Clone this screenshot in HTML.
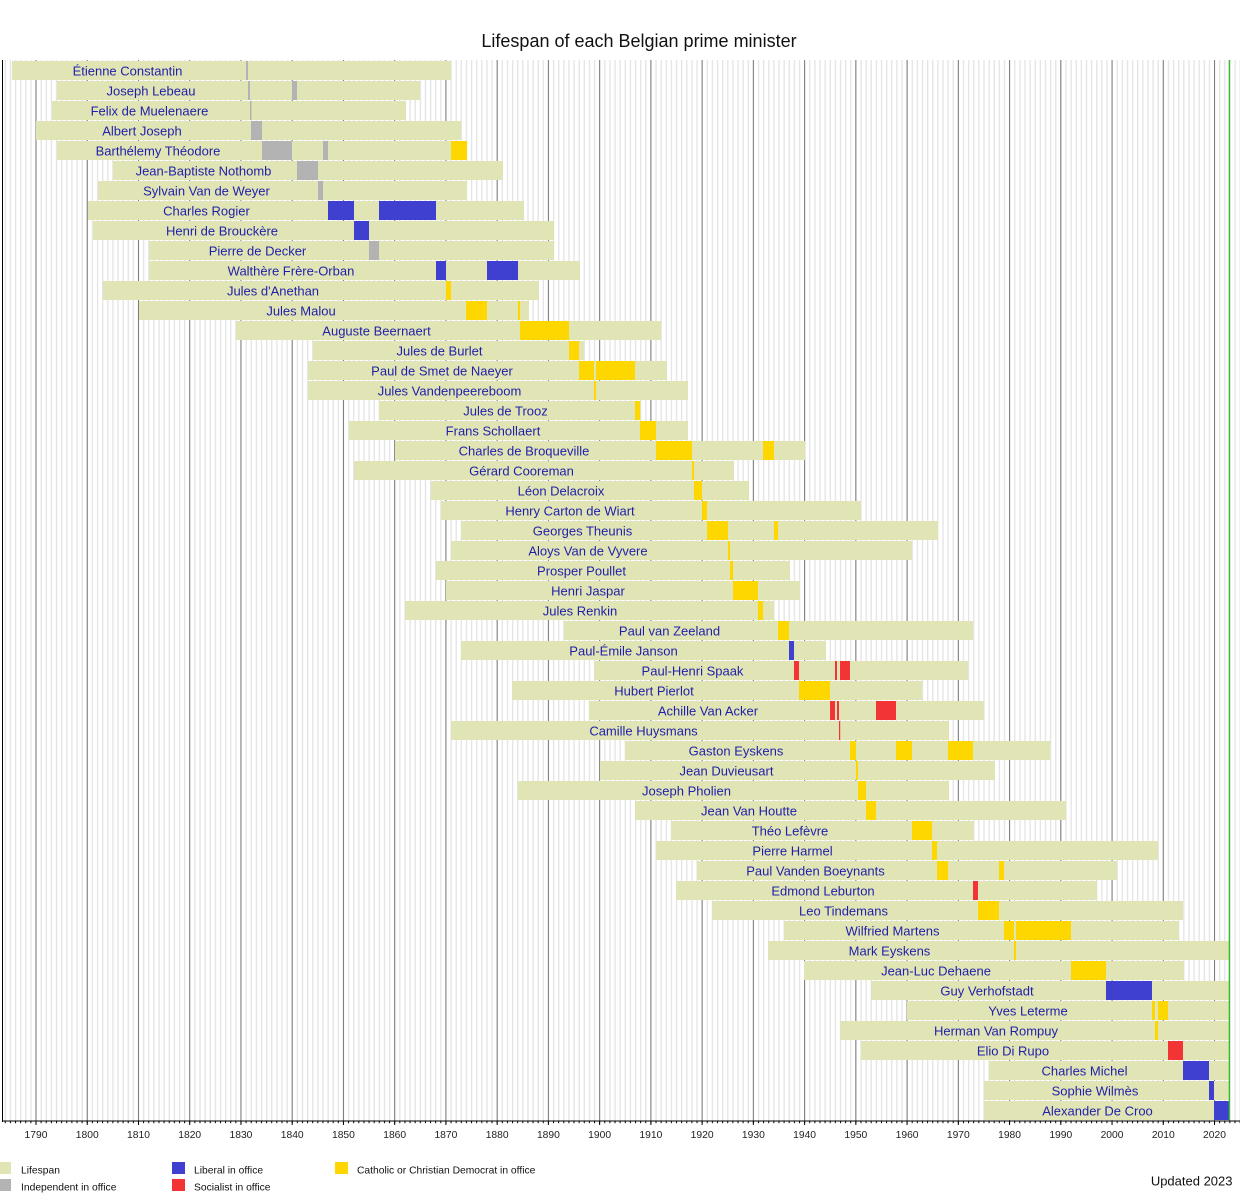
<!DOCTYPE html>
<html><head><meta charset="utf-8"><style>
html,body{margin:0;padding:0;background:#fff;}
svg{display:block;}
.n{font-family:"Liberation Sans",Arial,sans-serif;font-size:13px;fill:#1f1fa8;text-anchor:middle;}
.t{font-family:"Liberation Sans",Arial,sans-serif;font-size:10.3px;fill:#222;text-anchor:middle;}
.lg{font-family:"Liberation Sans",Arial,sans-serif;font-size:10.3px;fill:#111;}
</style></head><body>
<svg width="1250" height="1200" viewBox="0 0 1250 1200" xmlns="http://www.w3.org/2000/svg">
<defs>
<pattern id="minor" patternUnits="userSpaceOnUse" x="35.4" y="0" width="5.124" height="20"><rect x="0" y="0" width="1.3" height="20" fill="#e4e4e4"/></pattern>
<pattern id="mtick" patternUnits="userSpaceOnUse" x="35.5" y="0" width="5.124" height="20"><rect x="0" y="0" width="1" height="20" fill="#000"/></pattern>
</defs>
<rect width="1250" height="1200" fill="#fff"/>
<text x="639" y="47" style="font-family:'Liberation Sans',Arial,sans-serif;font-size:18px;fill:#111;text-anchor:middle">Lifespan of each Belgian prime minister</text>
<rect x="3" y="60" width="1237" height="1061" fill="url(#minor)"/>
<g stroke="#7a7a7a" stroke-width="1">
<line x1="36" y1="60" x2="36" y2="1121"/><line x1="87.24" y1="60" x2="87.24" y2="1121"/><line x1="138.48" y1="60" x2="138.48" y2="1121"/><line x1="189.72" y1="60" x2="189.72" y2="1121"/><line x1="240.96" y1="60" x2="240.96" y2="1121"/><line x1="292.2" y1="60" x2="292.2" y2="1121"/><line x1="343.44" y1="60" x2="343.44" y2="1121"/><line x1="394.68" y1="60" x2="394.68" y2="1121"/><line x1="445.92" y1="60" x2="445.92" y2="1121"/><line x1="497.16" y1="60" x2="497.16" y2="1121"/><line x1="548.4" y1="60" x2="548.4" y2="1121"/><line x1="599.64" y1="60" x2="599.64" y2="1121"/><line x1="650.88" y1="60" x2="650.88" y2="1121"/><line x1="702.12" y1="60" x2="702.12" y2="1121"/><line x1="753.36" y1="60" x2="753.36" y2="1121"/><line x1="804.6" y1="60" x2="804.6" y2="1121"/><line x1="855.84" y1="60" x2="855.84" y2="1121"/><line x1="907.08" y1="60" x2="907.08" y2="1121"/><line x1="958.32" y1="60" x2="958.32" y2="1121"/><line x1="1009.56" y1="60" x2="1009.56" y2="1121"/><line x1="1060.8" y1="60" x2="1060.8" y2="1121"/><line x1="1112.04" y1="60" x2="1112.04" y2="1121"/><line x1="1163.28" y1="60" x2="1163.28" y2="1121"/><line x1="1214.52" y1="60" x2="1214.52" y2="1121"/>
</g>
<g transform="translate(0,61)"><rect x="12" width="439" height="19" fill="#e1e5b6"/><rect x="246" width="2" height="19" fill="#b3b3b3"/><text class="n" x="127.5" y="14.5">Étienne Constantin</text></g>
<g transform="translate(0,81)"><rect x="57" width="363" height="19" fill="#e1e5b6"/><rect x="248" width="2" height="19" fill="#b3b3b3"/><rect x="292" width="5" height="19" fill="#b3b3b3"/><text class="n" x="151" y="14.5">Joseph Lebeau</text></g>
<g transform="translate(0,101)"><rect x="52" width="354" height="19" fill="#e1e5b6"/><rect x="250" width="1.5" height="19" fill="#b3b3b3"/><text class="n" x="149.5" y="14.5">Felix de Muelenaere</text></g>
<g transform="translate(0,121)"><rect x="36" width="425" height="19" fill="#e1e5b6"/><rect x="251" width="11" height="19" fill="#b3b3b3"/><text class="n" x="142" y="14.5">Albert Joseph</text></g>
<g transform="translate(0,141)"><rect x="57" width="410" height="19" fill="#e1e5b6"/><rect x="262" width="30" height="19" fill="#b3b3b3"/><rect x="323" width="5" height="19" fill="#b3b3b3"/><rect x="451" width="16" height="19" fill="#ffd700"/><text class="n" x="158" y="14.5">Barthélemy Théodore</text></g>
<g transform="translate(0,161)"><rect x="113" width="390" height="19" fill="#e1e5b6"/><rect x="297" width="21" height="19" fill="#b3b3b3"/><text class="n" x="203.5" y="14.5">Jean-Baptiste Nothomb</text></g>
<g transform="translate(0,181)"><rect x="98" width="369" height="19" fill="#e1e5b6"/><rect x="318" width="5" height="19" fill="#b3b3b3"/><text class="n" x="206.5" y="14.5">Sylvain Van de Weyer</text></g>
<g transform="translate(0,201)"><rect x="88" width="436" height="19" fill="#e1e5b6"/><rect x="328" width="26" height="19" fill="#4040d0"/><rect x="379" width="57" height="19" fill="#4040d0"/><text class="n" x="206.5" y="14.5">Charles Rogier</text></g>
<g transform="translate(0,221)"><rect x="93" width="461" height="19" fill="#e1e5b6"/><rect x="354" width="15" height="19" fill="#4040d0"/><text class="n" x="222" y="14.5">Henri de Brouckère</text></g>
<g transform="translate(0,241)"><rect x="149" width="405" height="19" fill="#e1e5b6"/><rect x="369" width="10" height="19" fill="#b3b3b3"/><text class="n" x="257.5" y="14.5">Pierre de Decker</text></g>
<g transform="translate(0,261)"><rect x="149" width="431" height="19" fill="#e1e5b6"/><rect x="436" width="10" height="19" fill="#4040d0"/><rect x="487" width="31" height="19" fill="#4040d0"/><text class="n" x="291" y="14.5">Walthère Frère-Orban</text></g>
<g transform="translate(0,281)"><rect x="103" width="436" height="19" fill="#e1e5b6"/><rect x="446" width="5" height="19" fill="#ffd700"/><text class="n" x="273" y="14.5">Jules d'Anethan</text></g>
<g transform="translate(0,301)"><rect x="139" width="390" height="19" fill="#e1e5b6"/><rect x="466" width="21" height="19" fill="#ffd700"/><rect x="518" width="2" height="19" fill="#ffd700"/><text class="n" x="301" y="14.5">Jules Malou</text></g>
<g transform="translate(0,321)"><rect x="236" width="425" height="19" fill="#e1e5b6"/><rect x="520" width="49" height="19" fill="#ffd700"/><text class="n" x="376.5" y="14.5">Auguste Beernaert</text></g>
<g transform="translate(0,341)"><rect x="313" width="271" height="19" fill="#e1e5b6"/><rect x="569" width="10" height="19" fill="#ffd700"/><text class="n" x="439.5" y="14.5">Jules de Burlet</text></g>
<g transform="translate(0,361)"><rect x="308" width="359" height="19" fill="#e1e5b6"/><rect x="579" width="15" height="19" fill="#ffd700"/><rect x="596" width="39" height="19" fill="#ffd700"/><text class="n" x="442" y="14.5">Paul de Smet de Naeyer</text></g>
<g transform="translate(0,381)"><rect x="308" width="380" height="19" fill="#e1e5b6"/><rect x="594" width="2" height="19" fill="#ffd700"/><text class="n" x="449.5" y="14.5">Jules Vandenpeereboom</text></g>
<g transform="translate(0,401)"><rect x="379" width="262" height="19" fill="#e1e5b6"/><rect x="635" width="5" height="19" fill="#ffd700"/><text class="n" x="505.5" y="14.5">Jules de Trooz</text></g>
<g transform="translate(0,421)"><rect x="349" width="339" height="19" fill="#e1e5b6"/><rect x="640" width="16" height="19" fill="#ffd700"/><text class="n" x="493" y="14.5">Frans Schollaert</text></g>
<g transform="translate(0,441)"><rect x="395" width="410" height="19" fill="#e1e5b6"/><rect x="656" width="36" height="19" fill="#ffd700"/><rect x="763" width="11" height="19" fill="#ffd700"/><text class="n" x="524" y="14.5">Charles de Broqueville</text></g>
<g transform="translate(0,461)"><rect x="354" width="380" height="19" fill="#e1e5b6"/><rect x="692" width="2" height="19" fill="#ffd700"/><text class="n" x="521.5" y="14.5">Gérard Cooreman</text></g>
<g transform="translate(0,481)"><rect x="431" width="318" height="19" fill="#e1e5b6"/><rect x="694" width="8" height="19" fill="#ffd700"/><text class="n" x="561" y="14.5">Léon Delacroix</text></g>
<g transform="translate(0,501)"><rect x="441" width="420" height="19" fill="#e1e5b6"/><rect x="702" width="5" height="19" fill="#ffd700"/><text class="n" x="570" y="14.5">Henry Carton de Wiart</text></g>
<g transform="translate(0,521)"><rect x="461" width="477" height="19" fill="#e1e5b6"/><rect x="707" width="21" height="19" fill="#ffd700"/><rect x="774" width="4" height="19" fill="#ffd700"/><text class="n" x="582.5" y="14.5">Georges Theunis</text></g>
<g transform="translate(0,541)"><rect x="451" width="461" height="19" fill="#e1e5b6"/><rect x="728" width="2" height="19" fill="#ffd700"/><text class="n" x="588" y="14.5">Aloys Van de Vyvere</text></g>
<g transform="translate(0,561)"><rect x="436" width="354" height="19" fill="#e1e5b6"/><rect x="730" width="3" height="19" fill="#ffd700"/><text class="n" x="581.5" y="14.5">Prosper Poullet</text></g>
<g transform="translate(0,581)"><rect x="446" width="354" height="19" fill="#e1e5b6"/><rect x="733" width="25" height="19" fill="#ffd700"/><text class="n" x="588" y="14.5">Henri Jaspar</text></g>
<g transform="translate(0,601)"><rect x="405" width="369" height="19" fill="#e1e5b6"/><rect x="758" width="5" height="19" fill="#ffd700"/><text class="n" x="580" y="14.5">Jules Renkin</text></g>
<g transform="translate(0,621)"><rect x="564" width="409" height="19" fill="#e1e5b6"/><rect x="778" width="11" height="19" fill="#ffd700"/><text class="n" x="669.5" y="14.5">Paul van Zeeland</text></g>
<g transform="translate(0,641)"><rect x="461" width="365" height="19" fill="#e1e5b6"/><rect x="789" width="5" height="19" fill="#4040d0"/><text class="n" x="623.5" y="14.5">Paul-Émile Janson</text></g>
<g transform="translate(0,661)"><rect x="594" width="374" height="19" fill="#e1e5b6"/><rect x="794" width="5" height="19" fill="#f23434"/><rect x="835" width="2" height="19" fill="#f23434"/><rect x="840" width="10" height="19" fill="#f23434"/><text class="n" x="692.5" y="14.5">Paul-Henri Spaak</text></g>
<g transform="translate(0,681)"><rect x="512" width="410" height="19" fill="#e1e5b6"/><rect x="799" width="31" height="19" fill="#ffd700"/><text class="n" x="654" y="14.5">Hubert Pierlot</text></g>
<g transform="translate(0,701)"><rect x="589" width="395" height="19" fill="#e1e5b6"/><rect x="830" width="5" height="19" fill="#f23434"/><rect x="837" width="2" height="19" fill="#f23434"/><rect x="876" width="20" height="19" fill="#f23434"/><text class="n" x="708" y="14.5">Achille Van Acker</text></g>
<g transform="translate(0,721)"><rect x="451" width="498" height="19" fill="#e1e5b6"/><rect x="839" width="1.2" height="19" fill="#f23434"/><text class="n" x="643.5" y="14.5">Camille Huysmans</text></g>
<g transform="translate(0,741)"><rect x="625" width="425" height="19" fill="#e1e5b6"/><rect x="850" width="6" height="19" fill="#ffd700"/><rect x="896" width="16" height="19" fill="#ffd700"/><rect x="948" width="25" height="19" fill="#ffd700"/><text class="n" x="736" y="14.5">Gaston Eyskens</text></g>
<g transform="translate(0,761)"><rect x="600" width="395" height="19" fill="#e1e5b6"/><rect x="856" width="2" height="19" fill="#ffd700"/><text class="n" x="726.5" y="14.5">Jean Duvieusart</text></g>
<g transform="translate(0,781)"><rect x="518" width="431" height="19" fill="#e1e5b6"/><rect x="858" width="8" height="19" fill="#ffd700"/><text class="n" x="686.5" y="14.5">Joseph Pholien</text></g>
<g transform="translate(0,801)"><rect x="635" width="431" height="19" fill="#e1e5b6"/><rect x="866" width="10" height="19" fill="#ffd700"/><text class="n" x="749" y="14.5">Jean Van Houtte</text></g>
<g transform="translate(0,821)"><rect x="671" width="303" height="19" fill="#e1e5b6"/><rect x="912" width="20" height="19" fill="#ffd700"/><text class="n" x="790" y="14.5">Théo Lefèvre</text></g>
<g transform="translate(0,841)"><rect x="656" width="502" height="19" fill="#e1e5b6"/><rect x="932" width="5" height="19" fill="#ffd700"/><text class="n" x="792.5" y="14.5">Pierre Harmel</text></g>
<g transform="translate(0,861)"><rect x="697" width="420" height="19" fill="#e1e5b6"/><rect x="937" width="11" height="19" fill="#ffd700"/><rect x="999" width="5" height="19" fill="#ffd700"/><text class="n" x="815.5" y="14.5">Paul Vanden Boeynants</text></g>
<g transform="translate(0,881)"><rect x="676" width="421" height="19" fill="#e1e5b6"/><rect x="973" width="5" height="19" fill="#f23434"/><text class="n" x="823" y="14.5">Edmond Leburton</text></g>
<g transform="translate(0,901)"><rect x="712" width="471" height="19" fill="#e1e5b6"/><rect x="978" width="21" height="19" fill="#ffd700"/><text class="n" x="843.5" y="14.5">Leo Tindemans</text></g>
<g transform="translate(0,921)"><rect x="784" width="395" height="19" fill="#e1e5b6"/><rect x="1004" width="10" height="19" fill="#ffd700"/><rect x="1016" width="55" height="19" fill="#ffd700"/><text class="n" x="892.5" y="14.5">Wilfried Martens</text></g>
<g transform="translate(0,941)"><rect x="768" width="461" height="19" fill="#e1e5b6"/><rect x="1014" width="2" height="19" fill="#ffd700"/><text class="n" x="889.5" y="14.5">Mark Eyskens</text></g>
<g transform="translate(0,961)"><rect x="804" width="380" height="19" fill="#e1e5b6"/><rect x="1071" width="35" height="19" fill="#ffd700"/><text class="n" x="936" y="14.5">Jean-Luc Dehaene</text></g>
<g transform="translate(0,981)"><rect x="871" width="358" height="19" fill="#e1e5b6"/><rect x="1106" width="46" height="19" fill="#4040d0"/><text class="n" x="987" y="14.5">Guy Verhofstadt</text></g>
<g transform="translate(0,1001)"><rect x="907" width="322" height="19" fill="#e1e5b6"/><rect x="1152" width="3" height="19" fill="#ffd700"/><rect x="1158" width="10" height="19" fill="#ffd700"/><text class="n" x="1028" y="14.5">Yves Leterme</text></g>
<g transform="translate(0,1021)"><rect x="840" width="389" height="19" fill="#e1e5b6"/><rect x="1155" width="3" height="19" fill="#ffd700"/><text class="n" x="996" y="14.5">Herman Van Rompuy</text></g>
<g transform="translate(0,1041)"><rect x="861" width="368" height="19" fill="#e1e5b6"/><rect x="1168" width="15" height="19" fill="#f23434"/><text class="n" x="1013" y="14.5">Elio Di Rupo</text></g>
<g transform="translate(0,1061)"><rect x="989" width="240" height="19" fill="#e1e5b6"/><rect x="1183" width="26" height="19" fill="#4040d0"/><text class="n" x="1084.5" y="14.5">Charles Michel</text></g>
<g transform="translate(0,1081)"><rect x="984" width="245" height="19" fill="#e1e5b6"/><rect x="1209" width="5" height="19" fill="#4040d0"/><text class="n" x="1095" y="14.5">Sophie Wilmès</text></g>
<g transform="translate(0,1101)"><rect x="984" width="245" height="19" fill="#e1e5b6"/><rect x="1214" width="15" height="19" fill="#4040d0"/><text class="n" x="1097.5" y="14.5">Alexander De Croo</text></g>
<rect x="1228.7" y="60" width="1.4" height="1061" fill="#33bb33"/>
<rect x="2" y="60" width="1" height="1062" fill="#000"/>
<rect x="2" y="1120.5" width="1238" height="1" fill="#000"/>
<rect x="3" y="1121" width="1237" height="2.2" fill="url(#mtick)"/>
<g stroke="#000" stroke-width="1">
<line x1="36" y1="1121" x2="36" y2="1125"/><line x1="87.24" y1="1121" x2="87.24" y2="1125"/><line x1="138.48" y1="1121" x2="138.48" y2="1125"/><line x1="189.72" y1="1121" x2="189.72" y2="1125"/><line x1="240.96" y1="1121" x2="240.96" y2="1125"/><line x1="292.2" y1="1121" x2="292.2" y2="1125"/><line x1="343.44" y1="1121" x2="343.44" y2="1125"/><line x1="394.68" y1="1121" x2="394.68" y2="1125"/><line x1="445.92" y1="1121" x2="445.92" y2="1125"/><line x1="497.16" y1="1121" x2="497.16" y2="1125"/><line x1="548.4" y1="1121" x2="548.4" y2="1125"/><line x1="599.64" y1="1121" x2="599.64" y2="1125"/><line x1="650.88" y1="1121" x2="650.88" y2="1125"/><line x1="702.12" y1="1121" x2="702.12" y2="1125"/><line x1="753.36" y1="1121" x2="753.36" y2="1125"/><line x1="804.6" y1="1121" x2="804.6" y2="1125"/><line x1="855.84" y1="1121" x2="855.84" y2="1125"/><line x1="907.08" y1="1121" x2="907.08" y2="1125"/><line x1="958.32" y1="1121" x2="958.32" y2="1125"/><line x1="1009.56" y1="1121" x2="1009.56" y2="1125"/><line x1="1060.8" y1="1121" x2="1060.8" y2="1125"/><line x1="1112.04" y1="1121" x2="1112.04" y2="1125"/><line x1="1163.28" y1="1121" x2="1163.28" y2="1125"/><line x1="1214.52" y1="1121" x2="1214.52" y2="1125"/>
</g>
<g>
<text class="t" x="36" y="1138">1790</text><text class="t" x="87.24" y="1138">1800</text><text class="t" x="138.48" y="1138">1810</text><text class="t" x="189.72" y="1138">1820</text><text class="t" x="240.96" y="1138">1830</text><text class="t" x="292.2" y="1138">1840</text><text class="t" x="343.44" y="1138">1850</text><text class="t" x="394.68" y="1138">1860</text><text class="t" x="445.92" y="1138">1870</text><text class="t" x="497.16" y="1138">1880</text><text class="t" x="548.4" y="1138">1890</text><text class="t" x="599.64" y="1138">1900</text><text class="t" x="650.88" y="1138">1910</text><text class="t" x="702.12" y="1138">1920</text><text class="t" x="753.36" y="1138">1930</text><text class="t" x="804.6" y="1138">1940</text><text class="t" x="855.84" y="1138">1950</text><text class="t" x="907.08" y="1138">1960</text><text class="t" x="958.32" y="1138">1970</text><text class="t" x="1009.56" y="1138">1980</text><text class="t" x="1060.8" y="1138">1990</text><text class="t" x="1112.04" y="1138">2000</text><text class="t" x="1163.28" y="1138">2010</text><text class="t" x="1214.52" y="1138">2020</text>
</g>
<rect x="0" y="1162" width="11" height="12" fill="#e1e5b6"/>
<text class="lg" x="21" y="1173.5">Lifespan</text>
<rect x="0" y="1179" width="11" height="12" fill="#b3b3b3"/>
<text class="lg" x="21" y="1190.5">Independent in office</text>
<rect x="172" y="1162" width="13" height="12" fill="#4040d0"/>
<text class="lg" x="194" y="1173.5">Liberal in office</text>
<rect x="172" y="1179" width="13" height="12" fill="#f23434"/>
<text class="lg" x="194" y="1190.5">Socialist in office</text>
<rect x="335" y="1162" width="13" height="12" fill="#ffd700"/>
<text class="lg" x="357" y="1173.5">Catholic or Christian Democrat in office</text>
<text x="1232.5" y="1185.5" style="font-family:'Liberation Sans',Arial,sans-serif;font-size:13px;fill:#111;text-anchor:end">Updated 2023</text>
</svg>
</body></html>
